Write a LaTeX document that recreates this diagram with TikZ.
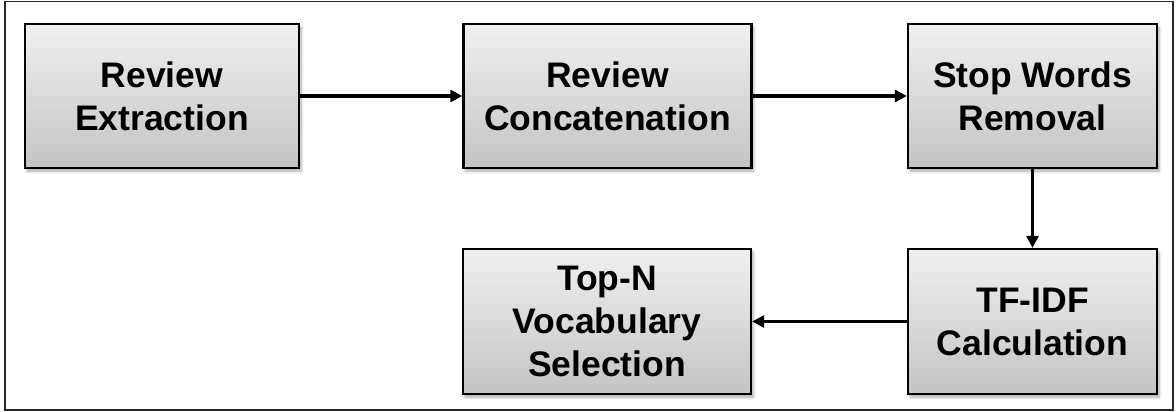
\documentclass[tikz,border=0pt]{standalone}
\usepackage{fontspec}
\setmainfont{Liberation Sans}
\usetikzlibrary{arrows.meta,shadows.blur}

\definecolor{boxtop}{HTML}{F0F0F0}
\definecolor{boxbottom}{HTML}{C4C4C4}

\begin{document}
\begin{tikzpicture}[x=1pt,y=1pt,
  stage/.style={draw=black, line width=2.3pt, inner sep=0pt,
    top color=boxtop, bottom color=boxbottom,
    minimum height=144pt, align=center,
    font=\fontsize{35.5}{43}\selectfont\bfseries,
    blur shadow={shadow xshift=2pt, shadow yshift=-3pt,
      shadow opacity=35, shadow blur steps=6, shadow blur radius=3pt}},
  flow/.style={line width=3.3pt, -{Triangle[length=12pt,width=12pt]}}]

  % canvas and outer frame
  \useasboundingbox (0,0) rectangle (1176,-412);
  \draw[line width=1.6pt, black!85] (5,-1.5) rectangle (1173,-410);

  % processing stages
  \node[stage, minimum width=274pt] (extract) at (162,-96) {Review\\Extraction};
  \node[stage, minimum width=288pt] (concat)  at (607.5,-96) {Review\\Concatenation};
  \node[stage, minimum width=249pt] (stop)    at (1032.5,-96) {Stop Words\\Removal};
  \node[stage, minimum width=249pt, minimum height=145pt] (tfidf) at (1032.5,-321.5) {TF-IDF\\Calculation};
  \node[stage, minimum width=288pt, minimum height=145pt] (topn)  at (607,-321.5) {Top-N\\Vocabulary\\Selection};

  % connectors
  \draw[flow] (extract.east) -- (concat.west);
  \draw[flow] (concat.east) -- (stop.west);
  \draw[flow] (stop.south) -- (tfidf.north);
  \draw[flow] (tfidf.west) -- (topn.east);
\end{tikzpicture}
\end{document}
